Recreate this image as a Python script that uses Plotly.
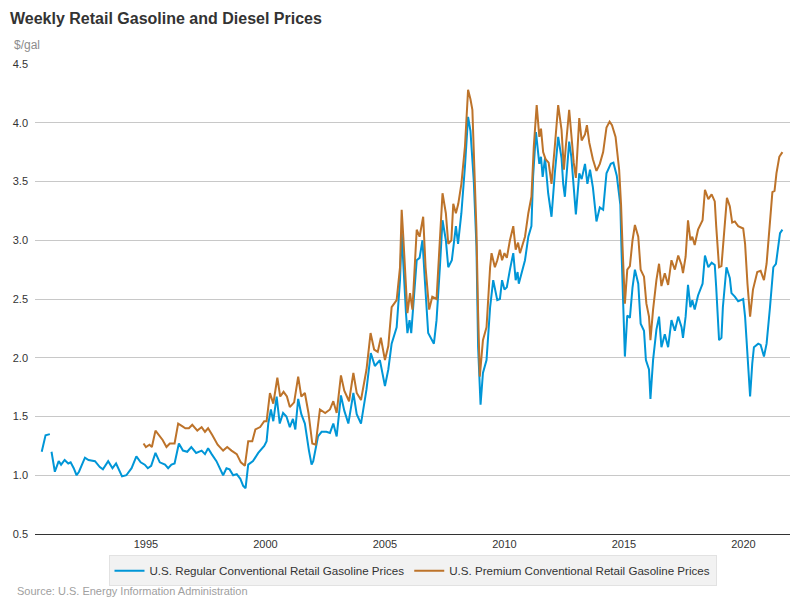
import plotly.graph_objects as go
import pandas as pd

# Decimal-year dates and values
regular_years = [
    1990.64, 1990.72, 1990.80, 1990.98, 1991.02,
    1991.05, 1991.19, 1991.35, 1991.45, 1991.60, 1991.75, 1991.85, 1991.98, 1992.10, 1992.20,
    1992.45, 1992.60, 1992.87, 1993.07, 1993.20, 1993.42, 1993.60, 1993.75, 1994.00, 1994.18,
    1994.40, 1994.60, 1994.78, 1994.95, 1995.08, 1995.22, 1995.40, 1995.58, 1995.80, 1995.93,
    1996.07, 1996.20, 1996.38, 1996.55, 1996.73, 1996.90, 1997.10, 1997.33, 1997.47, 1997.60,
    1997.75, 1997.95, 1998.23, 1998.37, 1998.50, 1998.65, 1998.80, 1998.95, 1999.07, 1999.17,
    1999.28, 1999.48, 1999.70, 1999.95, 2000.05, 2000.12, 2000.23, 2000.33, 2000.47, 2000.60,
    2000.74, 2000.88, 2001.02, 2001.15, 2001.25, 2001.37, 2001.50, 2001.65, 2001.82, 2001.93,
    2002.00, 2002.20, 2002.35, 2002.55, 2002.70, 2002.84, 2002.98, 2003.16, 2003.30, 2003.47,
    2003.68, 2003.82, 2004.00, 2004.23, 2004.41, 2004.58, 2004.79, 2005.00, 2005.14, 2005.28,
    2005.49, 2005.63, 2005.70, 2005.77, 2005.88, 2005.94, 2006.03, 2006.10, 2006.33, 2006.45,
    2006.57, 2006.67, 2006.81, 2007.05, 2007.16, 2007.30, 2007.41, 2007.55, 2007.65, 2007.80,
    2007.97, 2008.06, 2008.20, 2008.35, 2008.48, 2008.58, 2008.66, 2008.72, 2008.83, 2008.90,
    2009.00, 2009.10, 2009.25, 2009.40, 2009.53, 2009.70, 2009.81, 2009.90, 2010.00, 2010.10,
    2010.23, 2010.37, 2010.47, 2010.55, 2010.60, 2010.86, 2011.00, 2011.13, 2011.20, 2011.32,
    2011.46, 2011.53, 2011.60, 2011.70, 2011.83, 2011.97, 2012.11, 2012.25, 2012.39, 2012.46,
    2012.53, 2012.71, 2012.80, 2012.90, 2012.99, 2013.13, 2013.23, 2013.37, 2013.47, 2013.58,
    2013.70, 2013.85, 2013.99, 2014.13, 2014.27, 2014.45, 2014.56, 2014.70, 2014.85, 2014.90,
    2015.00, 2015.04, 2015.14, 2015.25, 2015.36, 2015.46, 2015.60, 2015.70, 2015.84, 2015.92,
    2016.05, 2016.11, 2016.22, 2016.36, 2016.47, 2016.57, 2016.71, 2016.85, 2016.99, 2017.13,
    2017.27, 2017.41, 2017.47, 2017.58, 2017.68, 2017.78, 2017.86, 2017.96, 2018.10, 2018.29,
    2018.39, 2018.53, 2018.67, 2018.80, 2018.86, 2018.98, 2019.08, 2019.14, 2019.29, 2019.43,
    2019.50, 2019.64, 2019.78, 2019.99, 2020.07, 2020.17, 2020.28, 2020.37, 2020.44, 2020.62,
    2020.72, 2020.86, 2020.97, 2021.11, 2021.25, 2021.36, 2021.46, 2021.53, 2021.63,
]
regular_values = [
    1.20, 1.27, 1.34, 1.35, None,
    1.20, 1.03, 1.12, 1.09, 1.13, 1.10, 1.11, 1.06, 1.00, 1.03,
    1.15, 1.13, 1.12, 1.07, 1.05, 1.12, 1.06, 1.10, 0.99, 1.00,
    1.06, 1.16, 1.11, 1.09, 1.06, 1.08, 1.19, 1.11, 1.09, 1.06,
    1.09, 1.10, 1.27, 1.21, 1.20, 1.24, 1.19, 1.21, 1.18, 1.23,
    1.18, 1.12, 1.00, 1.06, 1.05, 1.00, 1.01, 0.97, 0.91, 0.89,
    1.09, 1.12, 1.19, 1.25, 1.29, 1.44, 1.56, 1.46, 1.67, 1.44,
    1.53, 1.50, 1.41, 1.48, 1.39, 1.65, 1.52, 1.44, 1.21, 1.09,
    1.12, 1.33, 1.37, 1.37, 1.36, 1.44, 1.33, 1.68, 1.55, 1.44,
    1.70, 1.52, 1.44, 1.73, 2.04, 1.93, 1.98, 1.76, 1.90, 2.12,
    2.26, 2.66, 3.06, 2.77, 2.38, 2.21, 2.32, 2.21, 2.83, 2.85,
    3.00, 2.66, 2.21, 2.12, 2.32, 2.77, 3.17, 3.00, 2.77, 2.83,
    3.12, 2.97, 3.23, 3.63, 4.05, 3.93, 3.68, 3.50, 2.95, 2.09,
    1.60, 1.87, 1.98, 2.43, 2.66, 2.49, 2.50, 2.66, 2.58, 2.60,
    2.75, 2.89, 2.66, 2.73, 2.63, 2.83, 3.03, 3.12, 3.54, 3.92,
    3.65, 3.71, 3.54, 3.70, 3.40, 3.20, 3.57, 3.88, 3.70, 3.48,
    3.37, 3.84, 3.71, 3.46, 3.22, 3.57, 3.52, 3.65, 3.48, 3.60,
    3.45, 3.16, 3.28, 3.26, 3.57, 3.65, 3.66, 3.55, 3.30, 2.90,
    2.18, 2.01, 2.36, 2.34, 2.60, 2.75, 2.63, 2.29, 2.23, 1.98,
    1.90, 1.65, 1.98, 2.24, 2.35, 2.09, 2.20, 2.09, 2.32, 2.23,
    2.35, 2.26, 2.17, 2.35, 2.62, 2.43, 2.49, 2.41, 2.53, 2.63,
    2.87, 2.77, 2.81, 2.79, 2.60, 2.15, 2.17, 2.43, 2.77, 2.68,
    2.55, 2.52, 2.48, 2.50, 2.35, 1.98, 1.67, 1.95, 2.09, 2.12,
    2.11, 2.01, 2.12, 2.43, 2.77, 2.80, 2.97, 3.06, 3.09,
]

premium_years = [
    1994.90, 1995.00, 1995.15, 1995.25, 1995.40, 1995.55, 1995.70, 1995.86, 1996.00, 1996.20,
    1996.35, 1996.50, 1996.65, 1996.80, 1996.94, 1997.15, 1997.33, 1997.47, 1997.60, 1997.78,
    1998.00, 1998.23, 1998.40, 1998.58, 1998.80, 1998.97, 1999.14, 1999.28, 1999.45, 1999.58,
    1999.78, 1999.95, 2000.05, 2000.19, 2000.33, 2000.50, 2000.62, 2000.76, 2000.90, 2001.02,
    2001.20, 2001.37, 2001.50, 2001.65, 2001.80, 2001.96, 2002.10, 2002.28, 2002.50, 2002.70,
    2002.84, 2002.98, 2003.16, 2003.30, 2003.50, 2003.68, 2003.82, 2004.00, 2004.23, 2004.40,
    2004.55, 2004.70, 2004.83, 2005.00, 2005.14, 2005.28, 2005.49, 2005.63, 2005.70, 2005.77,
    2005.88, 2005.94, 2006.05, 2006.15, 2006.33, 2006.45, 2006.60, 2006.70, 2006.85, 2006.98,
    2007.16, 2007.30, 2007.41, 2007.55, 2007.65, 2007.78, 2007.86, 2007.97, 2008.07, 2008.20,
    2008.35, 2008.48, 2008.58, 2008.66, 2008.72, 2008.83, 2008.90, 2008.97, 2009.10, 2009.25,
    2009.40, 2009.46, 2009.60, 2009.70, 2009.81, 2009.90, 2010.00, 2010.10, 2010.23, 2010.37,
    2010.47, 2010.57, 2010.65, 2010.86, 2011.00, 2011.13, 2011.23, 2011.35, 2011.46, 2011.53,
    2011.62, 2011.72, 2011.85, 2011.97, 2012.11, 2012.25, 2012.39, 2012.49, 2012.57, 2012.71,
    2012.80, 2012.90, 2012.99, 2013.13, 2013.23, 2013.37, 2013.45, 2013.55, 2013.70, 2013.85,
    2013.99, 2014.13, 2014.27, 2014.40, 2014.50, 2014.65, 2014.80, 2014.88, 2014.94, 2015.04,
    2015.14, 2015.25, 2015.36, 2015.46, 2015.60, 2015.70, 2015.84, 2015.94, 2016.05, 2016.11,
    2016.22, 2016.36, 2016.47, 2016.57, 2016.71, 2016.85, 2016.99, 2017.13, 2017.27, 2017.41,
    2017.47, 2017.58, 2017.68, 2017.78, 2017.86, 2017.96, 2018.10, 2018.29, 2018.39, 2018.53,
    2018.67, 2018.80, 2018.86, 2018.98, 2019.08, 2019.18, 2019.31, 2019.43, 2019.53, 2019.64,
    2019.78, 2019.99, 2020.07, 2020.17, 2020.28, 2020.40, 2020.58, 2020.72, 2020.86, 2020.97,
    2021.11, 2021.21, 2021.30, 2021.38, 2021.50, 2021.63,
]
premium_values = [
    1.27, 1.24, 1.26, 1.24, 1.38, 1.34, 1.30, 1.24, 1.27, 1.27,
    1.44, 1.42, 1.40, 1.40, 1.43, 1.38, 1.41, 1.37, 1.40, 1.34,
    1.26, 1.21, 1.24, 1.21, 1.18, 1.11, 1.08, 1.29, 1.29, 1.39,
    1.41, 1.46, 1.46, 1.70, 1.61, 1.83, 1.67, 1.71, 1.67, 1.58,
    1.62, 1.84, 1.67, 1.70, 1.53, 1.27, 1.26, 1.56, 1.53, 1.56,
    1.63, 1.53, 1.85, 1.72, 1.63, 1.87, 1.70, 1.64, 1.90, 2.21,
    2.07, 2.05, 2.17, 1.98, 2.10, 2.43, 2.49, 2.77, 3.26, 3.02,
    2.60, 2.38, 2.55, 2.41, 3.09, 3.03, 3.20, 2.77, 2.41, 2.52,
    2.50, 3.00, 3.40, 3.23, 2.97, 3.00, 3.31, 3.23, 3.31, 3.48,
    3.80, 4.28, 4.20, 4.11, 3.80, 3.09, 2.38, 1.84, 2.15, 2.26,
    2.77, 2.89, 2.77, 2.83, 2.92, 2.83, 2.89, 2.85, 3.00, 3.12,
    2.92, 2.98, 2.89, 3.03, 3.23, 3.37, 3.80, 4.15, 3.88, 3.95,
    3.75, 3.69, 3.66, 3.48, 3.80, 4.15, 3.94, 3.60, 3.80, 4.11,
    3.90, 3.66, 3.53, 4.04, 3.85, 3.90, 3.98, 3.83, 3.69, 3.59,
    3.65, 3.75, 3.96, 4.01, 3.98, 3.88, 3.60, 3.30, 2.95, 2.46,
    2.75, 2.78, 3.00, 3.13, 3.03, 2.75, 2.69, 2.46, 2.35, 2.15,
    2.41, 2.66, 2.80, 2.61, 2.72, 2.62, 2.83, 2.75, 2.87, 2.79,
    2.72, 2.86, 3.17, 3.00, 3.03, 2.96, 3.09, 3.17, 3.43, 3.35,
    3.39, 3.33, 3.12, 2.77, 2.78, 3.02, 3.36, 3.29, 3.15, 3.16,
    3.12, 3.10, 2.97, 2.63, 2.35, 2.58, 2.73, 2.74, 2.66, 2.80,
    3.14, 3.41, 3.42, 3.57, 3.71, 3.75,
]

series_names = [
    "U.S. Regular Conventional Retail Gasoline Prices",
    "U.S. Premium Conventional Retail Gasoline Prices",
]
y_ticks = [0.5, 1.0, 1.5, 2.0, 2.5, 3.0, 3.5, 4.0, 4.5]
x_tick_years = [1995, 2000, 2005, 2010, 2015, 2020]


def to_dates(years):
    out = []
    for y in years:
        yr = int(y)
        start = pd.Timestamp(year=yr, month=1, day=1)
        out.append(start + pd.Timedelta(days=(y - yr) * 365.25))
    return out


BLUE = "#0096d7"
BROWN = "#bd732a"

fig = go.Figure()
fig.add_trace(go.Scatter(x=to_dates(regular_years), y=regular_values, mode="lines",
                         name=series_names[0], line=dict(color=BLUE, width=2),
                         connectgaps=False))
fig.add_trace(go.Scatter(x=to_dates(premium_years), y=premium_values, mode="lines",
                         name=series_names[1], line=dict(color=BROWN, width=2)))

fig.update_layout(
    width=800, height=600,
    margin=dict(l=35, r=10, t=64, b=66),
    paper_bgcolor="white", plot_bgcolor="white",
    font=dict(family="Liberation Sans, Arial, sans-serif", size=12, color="#333333"),
    title=dict(text="<b>Weekly Retail Gasoline and Diesel Prices</b>",
               xref="container", yref="container", x=0.0125, xanchor="left",
               y=0.97, yanchor="middle",
               font=dict(size=16, color="#333333")),
    showlegend=True,
    legend=dict(orientation="h", x=0.5, xanchor="center", y=-0.045, yanchor="top",
                bgcolor="#f2f2f2", bordercolor="#e2e2e2", borderwidth=1,
                font=dict(size=11.6, color="#333333"), itemwidth=30,
                tracegroupgap=0),
    xaxis=dict(
        type="date",
        range=[pd.Timestamp("1990-05-12"), pd.Timestamp("2021-12-13")],
        tickvals=[pd.Timestamp(year=y, month=1, day=1) for y in x_tick_years],
        ticktext=[str(y) for y in x_tick_years],
        showgrid=False, showline=True, linecolor="#333333", linewidth=1,
        ticks="", tickfont=dict(size=11, color="#333333"),
        zeroline=False,
    ),
    yaxis=dict(
        range=[0.5, 4.5],
        tickvals=y_ticks,
        ticktext=[f"{v:.1f}" for v in y_ticks],
        showgrid=True, gridcolor="#c8c8c8", gridwidth=1,
        ticks="", zeroline=False, showline=False,
        tickfont=dict(size=11, color="#333333"),
        ticklabelstandoff=6,
    ),
    annotations=[
        dict(text="$/gal", xref="paper", yref="paper", x=-0.0305, y=1.0404,
             xanchor="left", yanchor="middle", showarrow=False,
             font=dict(size=12, color="#8c8c8c")),
        dict(text="Source: U.S. Energy Information Administration", xref="paper", yref="paper",
             x=-0.0265, y=-0.121, xanchor="left", yanchor="middle", showarrow=False,
             font=dict(size=11, color="#a0a0a0")),
    ],
)

fig.write_html("out.html")
